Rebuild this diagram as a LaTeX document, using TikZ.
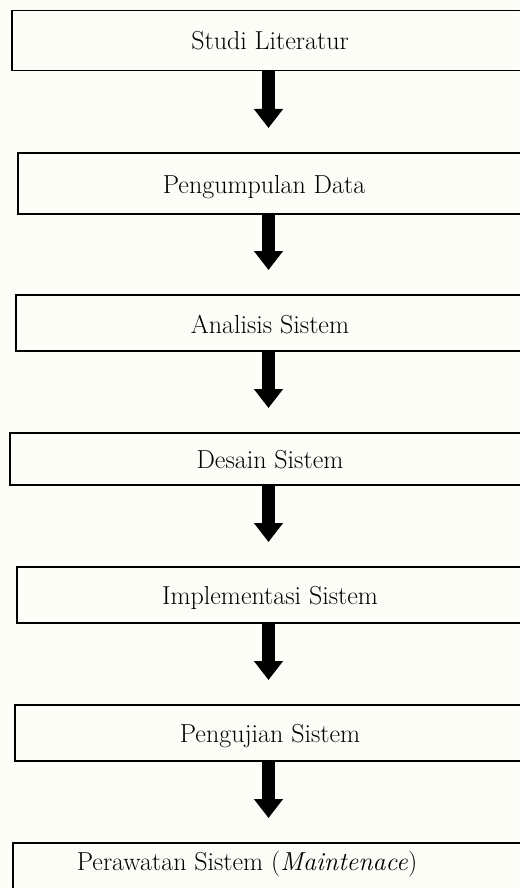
\documentclass[tikz,border=0pt]{standalone}
\usepackage{tikz}
\usetikzlibrary{arrows.meta,calc}
\definecolor{latar}{RGB}{253,253,247}

\begin{document}
\begin{tikzpicture}[
  x=1pt,y=-1pt,
  font=\fontsize{26}{31}\selectfont,
  kotak/.style={draw,line width=1.5pt,anchor=north west,inner sep=0pt},
  teks/.style={anchor=base,inner sep=0pt},
  panah/.style={-{Triangle[width=28pt,length=19pt]},line width=13pt,shorten >=24pt}
]
\fill[latar] (0,0) rectangle (519,888);
\useasboundingbox (0,0) rectangle (519,888);
\coordinate (ax) at (268.5,0);

\foreach \nama/\kiri/\atas/\tinggi/\tx/\ty/\isi in {
  a/11/10/60/270/50/{Studi Literatur},
  b/17/152/61/264/193/{Pengumpulan Data},
  c/15/294/56/270/333/{Analisis Sistem},
  d/9/432/52/270/468/{Desain Sistem},
  e/16/566/56/270/604/{Implementasi Sistem},
  f/14/704/56/270/742/{Pengujian Sistem},
  g/12/842/56/247/870/{Perawatan Sistem (\textit{Maintenace})}}
{
  \node[kotak,minimum width={560-\kiri},minimum height=\tinggi] (\nama) at (\kiri,\atas) {};
  \node[teks] (t\nama) at (\tx,\ty) {\isi};
}

\foreach \x/\y in {a/b,b/c,c/d,d/e,e/f,f/g} \draw[panah] (\x.south -| ax) -- (\y.north -| ax);
\end{tikzpicture}
\end{document}
